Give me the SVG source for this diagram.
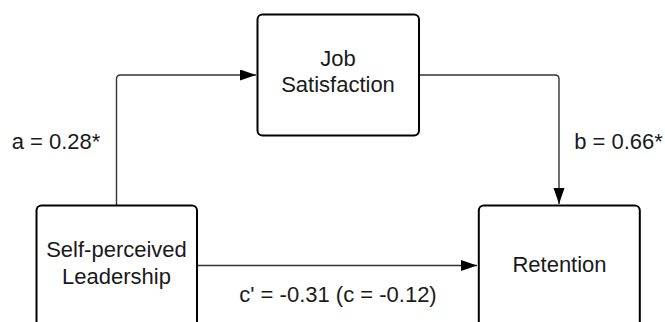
<svg xmlns="http://www.w3.org/2000/svg" width="665" height="322" viewBox="0 0 665 322">
<style>
.box{fill:#fff;stroke:#000;stroke-width:2}
.t{font-family:"Liberation Sans",Arial,sans-serif;font-size:22px;fill:#1a1a1a;text-anchor:middle}
.c{fill:none;stroke:#333;stroke-width:1.4}
</style>
<defs>
<marker id="arr" markerUnits="userSpaceOnUse" markerWidth="17" markerHeight="12" refX="16" refY="5.5" orient="auto">
<path d="M0,0 L16,5.5 L0,11 Z" fill="#000"/>
</marker>
</defs>
<rect width="665" height="322" fill="#fff"/>
<g id="connectors">
<path class="c" d="M116.5,205 V79 Q116.5,75 120.5,75 H256" marker-end="url(#arr)"/>
<path class="c" d="M419,75 H555 Q559,75 559,79 V204" marker-end="url(#arr)"/>
<path class="c" d="M197,265.5 H477" marker-end="url(#arr)"/>
<text class="t" x="56" y="149">a = 0.28*</text>
<text class="t" x="618.5" y="149">b = 0.66*</text>
<text class="t" x="338" y="302">c' = -0.31 (c = -0.12)</text>
</g>
<g id="job">
<rect class="box" x="257.5" y="14.5" width="161.5" height="121" rx="5"/>
<text class="t" x="338" y="65.5">Job</text>
<text class="t" x="338" y="92.3">Satisfaction</text>
</g>
<g id="leadership">
<rect class="box" x="36.5" y="205.5" width="160.5" height="140" rx="5"/>
<text class="t" x="116.5" y="257.4">Self-perceived</text>
<text class="t" x="116.5" y="284.2">Leadership</text>
</g>
<g id="retention">
<rect class="box" x="478.8" y="205.5" width="161" height="140" rx="5"/>
<text class="t" x="559.5" y="272.4">Retention</text>
</g>
</svg>
